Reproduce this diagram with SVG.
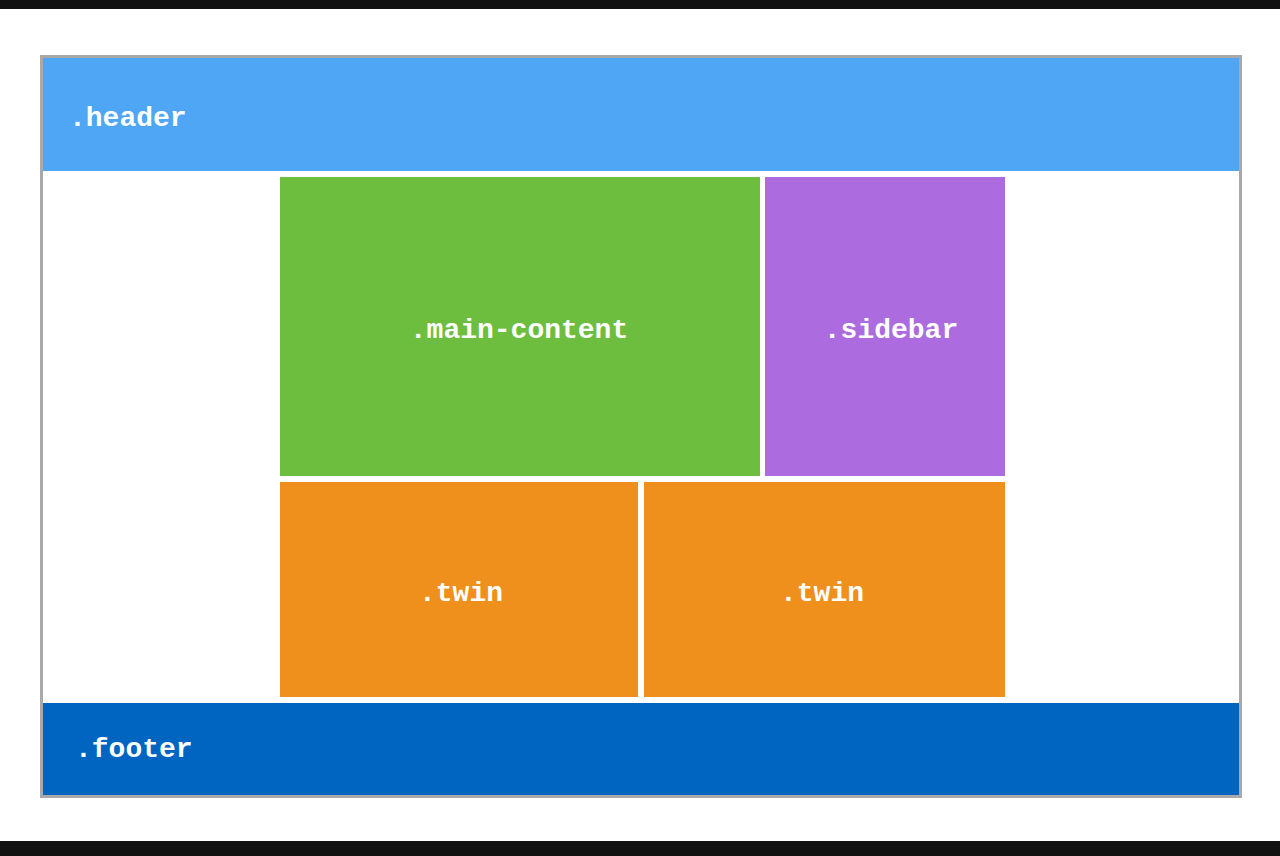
<svg xmlns="http://www.w3.org/2000/svg" width="1280" height="856" viewBox="0 0 1280 856">
  <style>
    .lbl { font-family: "Liberation Mono", "DejaVu Sans Mono", monospace; font-weight: bold; font-size: 28px; fill: #ffffff; }
    .mid { text-anchor: middle; }
  </style>
  <!-- page background and letterbox bars -->
  <rect x="0" y="0" width="1280" height="856" fill="#ffffff"/>
  <rect x="0" y="0" width="1280" height="9" fill="#111111"/>
  <rect x="0" y="841" width="1280" height="15" fill="#111111"/>

  <!-- outer layout frame -->
  <g id="frame">
    <rect x="41.5" y="56.5" width="1199" height="740" fill="#ffffff" stroke="#a9a9a9" stroke-width="3"/>
  </g>

  <g id="header">
    <rect x="43" y="58" width="1196" height="113" fill="#4fa6f5"/>
    <text class="lbl" x="69" y="126">.header</text>
  </g>

  <g id="main-content">
    <rect x="280" y="177" width="480" height="299" fill="#6dbe3f"/>
    <text class="lbl mid" x="519" y="338">.main-content</text>
  </g>

  <g id="sidebar">
    <rect x="765" y="177" width="240" height="299" fill="#ad6be0"/>
    <text class="lbl mid" x="891" y="338">.sidebar</text>
  </g>

  <g id="twin-1">
    <rect x="280" y="482" width="358" height="215" fill="#f0901c"/>
    <text class="lbl mid" x="461" y="601">.twin</text>
  </g>

  <g id="twin-2">
    <rect x="644" y="482" width="361" height="215" fill="#f0901c"/>
    <text class="lbl mid" x="822" y="601">.twin</text>
  </g>

  <g id="footer">
    <rect x="43" y="703" width="1196" height="92" fill="#0064c1"/>
    <text class="lbl" x="75" y="757">.footer</text>
  </g>

  <g id="connectors"/>
</svg>
